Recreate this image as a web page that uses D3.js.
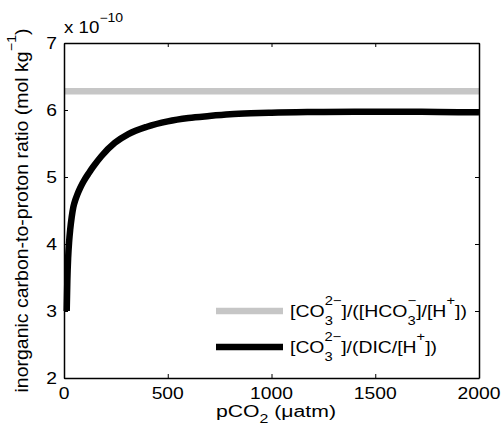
<!DOCTYPE html>
<html><head><meta charset="utf-8">
<script src="https://cdn.jsdelivr.net/npm/d3@7"></script>
<style>body{margin:0;background:#fff}text{font-family:"Liberation Sans",Arial,sans-serif;fill:#000}</style>
</head><body>
<script>
const pco2 = [13, 16, 20, 25, 30, 37, 45, 55, 65, 77, 90, 100, 120, 140, 180, 245, 310, 400, 500, 600, 700, 800, 900, 1000, 1200, 1400, 1600, 1800, 2000];
const ratioDIC = [3.00, 3.45, 3.80, 4.05, 4.22, 4.40, 4.55, 4.66, 4.745, 4.83, 4.91, 4.965, 5.06, 5.15, 5.31, 5.51, 5.64, 5.75, 5.83, 5.88, 5.91, 5.935, 5.95, 5.96, 5.97, 5.975, 5.975, 5.97, 5.965];
const ratioHCO3X = [0, 2000];
const ratioHCO3 = [6.28, 6.28];
const xTicks = [0, 500, 1000, 1500, 2000];
const yTicks = [2, 3, 4, 5, 6, 7];

const W = 502, H = 434;
const SX = 1.17;
const svg = d3.select("body").append("svg").attr("width", W).attr("height", H);
const x = d3.scaleLinear().domain([0, 2000]).range([64, 479]);
const y = d3.scaleLinear().domain([2, 7]).range([378, 43]);

// lines
const line = d3.line().x(d => x(d[0])).y(d => y(d[1]));
svg.append("path").datum(ratioHCO3X.map((v, i) => [v, ratioHCO3[i]]))
  .attr("d", line).attr("fill", "none").attr("stroke", "#c6c6c6").attr("stroke-width", 6.5);
svg.append("path").datum(pco2.map((v, i) => [v, ratioDIC[i]]))
  .attr("d", line.curve(d3.curveMonotoneX)).attr("fill", "none").attr("stroke", "#000").attr("stroke-width", 6.5);

// axes box with inward ticks
const axB = svg.append("g").attr("transform", `translate(0,${y(2)})`)
  .call(d3.axisBottom(x).tickValues(xTicks).tickSizeInner(-4).tickSizeOuter(0).tickFormat(""));
const axT = svg.append("g").attr("transform", `translate(0,${y(7)})`)
  .call(d3.axisTop(x).tickValues(xTicks).tickSizeInner(-4).tickSizeOuter(0).tickFormat(""));
const axL = svg.append("g").attr("transform", `translate(${x(0)},0)`)
  .call(d3.axisLeft(y).tickValues(yTicks).tickSizeInner(-4).tickSizeOuter(0).tickFormat(""));
const axR = svg.append("g").attr("transform", `translate(${x(2000)},0)`)
  .call(d3.axisRight(y).tickValues(yTicks).tickSizeInner(-4).tickSizeOuter(0).tickFormat(""));
[axB, axT, axL, axR].forEach(a => {
  a.select(".domain").attr("stroke", "#000").attr("stroke-width", 1.5);
  a.selectAll(".tick line").attr("stroke", "#000").attr("stroke-width", 1);
});

// rich text helper: lays out segments in local coords, returns natural width
function rich(g, segs, size, small, supOff, subOff) {
  let cx = 0;
  segs.forEach(s => {
    if (s.t !== undefined) {
      const t = g.append("text").attr("x", cx).attr("y", 0).attr("font-size", size)
        .attr("xml:space", "preserve").style("white-space", "pre").text(s.t);
      cx += t.node().getComputedTextLength();
    } else {
      let w = 0;
      if (s.sub) { const t = g.append("text").attr("x", cx).attr("y", subOff).attr("font-size", small).text(s.sub); w = Math.max(w, t.node().getComputedTextLength()); }
      if (s.sup) { const t = g.append("text").attr("x", cx).attr("y", supOff).attr("font-size", small).text(s.sup); w = Math.max(w, t.node().getComputedTextLength()); }
      cx += w;
    }
  });
  return cx;
}
function place(segs, px, py, opts) {
  const o = Object.assign({size: 16.5, small: 12.5, sup: -12, sub: 8, anchor: "start", width: null, rotate: 0}, opts || {});
  const outer = svg.append("g");
  const inner = outer.append("g");
  const w = rich(inner, segs, o.size, o.small, o.sup, o.sub);
  const s = o.width ? o.width / w : SX;
  const sw = w * s;
  const dx = o.anchor === "middle" ? -sw / 2 : o.anchor === "end" ? -sw : 0;
  outer.attr("transform", `translate(${px},${py}) rotate(${o.rotate}) translate(${dx},0) scale(${s},1)`);
  return outer;
}

// tick labels
xTicks.forEach(v => place([{t: String(v)}], x(v), 399, {anchor: "middle"}));
yTicks.forEach(v => place([{t: String(v)}], 57, y(v) + 6, {anchor: "end"}));

// exponent
place([{t: "x 10"}, {sup: "\u221210"}], 64, 33, {size: 16, small: 12, sup: -11});

// x label
place([{t: "pCO"}, {sub: "2"}, {t: " (\u03bcatm)"}], 276, 417, {anchor: "middle", width: 120, size: 16, small: 12, sub: 6});

// y label
place([{t: "inorganic carbon-to-proton ratio (mol kg"}, {sup: "\u22121"}, {t: ")"}], 28, (y(2) + y(7)) / 2,
  {anchor: "middle", width: 364, rotate: -90, size: 18, small: 13, sup: -12});

// legend
const legItems = [
  {color: "#c6c6c6", segs: [{t: "[CO"}, {sub: "3", sup: "2\u2212"}, {t: "]/([HCO"}, {sub: "3", sup: "\u2212"}, {t: "]/[H"}, {sup: "+"}, {t: "])"}], y: 311, w: 177},
  {color: "#000", segs: [{t: "[CO"}, {sub: "3", sup: "2\u2212"}, {t: "]/(DIC/[H"}, {sup: "+"}, {t: "])"}], y: 347, w: 147}
];
legItems.forEach(it => {
  svg.append("line").attr("x1", 216).attr("x2", 283).attr("y1", it.y).attr("y2", it.y)
    .attr("stroke", it.color).attr("stroke-width", 6.5);
  place(it.segs, 290, it.y + 6, {width: it.w});
});
</script>
</body></html>
